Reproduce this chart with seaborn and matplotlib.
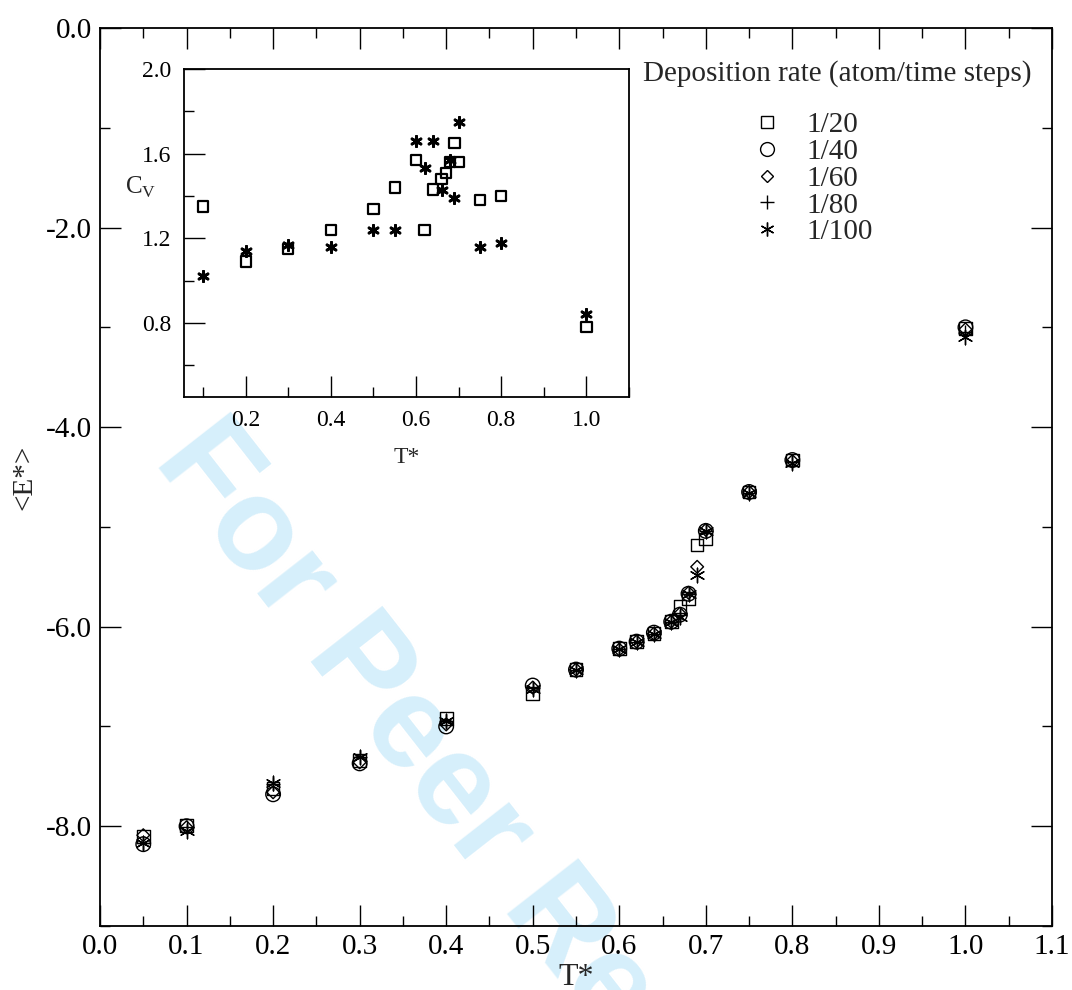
import numpy as np
import pandas as pd
import matplotlib
matplotlib.use("Agg")
import matplotlib.pyplot as plt
from matplotlib.lines import Line2D
from matplotlib.ticker import MultipleLocator, FormatStrFormatter
import seaborn as sns

# Mean energy per atom vs reduced temperature, one series per deposition rate
temps = [0.05, 0.10, 0.20, 0.30, 0.40, 0.50, 0.55, 0.60, 0.62, 0.64,
         0.66, 0.67, 0.68, 0.69, 0.70, 0.75, 0.80, 1.00]
e_rate_20 = [-8.10, -7.99, -7.62, -7.34, -6.92, -6.67, -6.43, -6.22, -6.15, -6.07,
             -5.95, -5.80, -5.72, -5.18, -5.12, -4.65, -4.33, -3.01]
e_rate_40 = [-8.18, -8.00, -7.68, -7.37, -7.00, -6.59, -6.43, -6.22, -6.15, -6.06,
             -5.95, -5.88, -5.67, np.nan, -5.04, -4.65, -4.33, -3.00]
e_rate_60 = [-8.09, -8.01, -7.66, -7.36, -6.98, -6.61, -6.43, -6.23, -6.15, -6.07,
             -5.95, -5.87, -5.66, -5.40, -5.03, -4.65, -4.34, -3.02]
e_rate_80 = [-8.17, -8.01, -7.58, -7.31, -6.95, -6.61, -6.43, -6.22, -6.15, -6.07,
             -5.95, -5.88, -5.67, np.nan, -5.04, -4.66, -4.35, -3.05]
e_rate_100 = [-8.17, -8.05, -7.57, -7.31, -6.95, -6.62, -6.43, -6.22, -6.15, -6.07,
              -5.95, -5.90, -5.67, -5.48, -5.04, -4.66, -4.36, -3.10]
rate_labels = ["1/20", "1/40", "1/60", "1/80", "1/100"]

# Specific heat (inset) for the fastest and slowest deposition rates
cv_temps = [0.10, 0.20, 0.30, 0.40, 0.50, 0.55, 0.60, 0.62, 0.64, 0.66,
            0.67, 0.68, 0.69, 0.70, 0.75, 0.80, 1.00]
cv_rate_20 = [1.35, 1.09, 1.15, 1.24, 1.34, 1.44, 1.57, 1.24, 1.43, 1.48,
              1.51, 1.56, 1.65, 1.56, 1.38, 1.40, 0.78]
cv_rate_100 = [1.02, 1.14, 1.17, 1.16, 1.24, 1.24, 1.66, 1.53, 1.66, 1.43,
               np.nan, 1.57, 1.39, 1.75, 1.16, 1.18, 0.84]

sns.set_style("ticks")
plt.rcParams["font.family"] = ["Liberation Serif", "DejaVu Serif"]
plt.rcParams["mathtext.fontset"] = "custom"
plt.rcParams["mathtext.rm"] = "Liberation Serif"

W, H = 1072, 990
fig = plt.figure(figsize=(W / 100, H / 100), dpi=100)
fig.patch.set_facecolor("white")


def px_rect(left, top, right, bottom):
    return [left / W, 1 - bottom / H, (right - left) / W, (bottom - top) / H]


ax = fig.add_axes(px_rect(100, 28, 1052, 926))
ax.set_facecolor("none")

fig.text(153 / W, 1 - 460 / H, "For Peer Review", rotation=-52,
         rotation_mode="anchor", ha="left", va="baseline", fontsize=94,
         fontweight="bold", family="Liberation Sans", color="#d6effb",
         zorder=-5)

energy = pd.DataFrame({
    "T": temps * 5,
    "E": e_rate_20 + e_rate_40 + e_rate_60 + e_rate_80 + e_rate_100,
    "rate": sum([[r] * len(temps) for r in rate_labels], []),
})

asterisk = (6, 2, 0)
styles = {
    "1/20": dict(marker="s", s=83, filled=True),
    "1/40": dict(marker="o", s=110, filled=True),
    "1/60": dict(marker="D", s=42, filled=True),
    "1/80": dict(marker="+", s=100, filled=False),
    "1/100": dict(marker=asterisk, s=110, filled=False),
}

handles = []
for rate in rate_labels:
    st = styles[rate]
    sub = energy[energy["rate"] == rate].dropna()
    ms = np.sqrt(st["s"]) * 0.95
    if st["filled"]:
        sns.scatterplot(data=sub, x="T", y="E", marker=st["marker"], s=st["s"],
                        facecolors="none", edgecolor="black", linewidth=1.0,
                        legend=False, ax=ax, zorder=3)
        handles.append(Line2D([], [], marker=st["marker"], linestyle="none",
                              markerfacecolor="none", markeredgecolor="black",
                              markeredgewidth=1.0, markersize=ms))
    else:
        sns.scatterplot(data=sub, x="T", y="E", marker=st["marker"], s=st["s"],
                        color="black", linewidth=1.0, legend=False, ax=ax, zorder=3)
        handles.append(Line2D([], [], marker=st["marker"], linestyle="none",
                              color="black", markeredgewidth=1.0, markersize=ms))

ax.set_xlim(0.0, 1.1)
ax.set_ylim(-9.0, 0.0)
ax.xaxis.set_major_locator(MultipleLocator(0.1))
ax.xaxis.set_minor_locator(MultipleLocator(0.05))
ax.yaxis.set_major_locator(MultipleLocator(2.0))
ax.yaxis.set_minor_locator(MultipleLocator(1.0))
ax.xaxis.set_major_formatter(FormatStrFormatter("%.1f"))
ax.yaxis.set_major_formatter(FormatStrFormatter("%.1f"))
ax.tick_params(which="both", direction="in", top=True, right=True, width=1.0,
               colors="black")
ax.tick_params(which="major", length=15, labelsize=21, pad=6)
ax.tick_params(which="minor", length=7.5)
for sp in ax.spines.values():
    sp.set_linewidth(1.3)
    sp.set_color("black")
    sp.set_visible(True)
ax.set_xlabel("T*", fontsize=23)
ax.set_ylabel("<E*>", fontsize=21)
ax.xaxis.set_label_coords(0.5, -0.041)
ax.xaxis.label.set_va("top")
ax.yaxis.set_label_coords(-0.066, 0.5)

fig.text(643 / W, 1 - 74 / H, "Deposition rate (atom/time steps)",
         ha="left", va="center", fontsize=21)
fig.legend(handles, rate_labels, loc="upper left",
           bbox_to_anchor=(752 / W, 1 - 112 / H), frameon=False,
           handlelength=1.0, handletextpad=0.88, labelspacing=0.01,
           borderpad=0, borderaxespad=0, fontsize=21)

# Inset: specific heat
ax_in = fig.add_axes(px_rect(184, 69, 629, 397), zorder=5)
ax_in.set_facecolor("white")
cv = pd.DataFrame({"T": cv_temps, "Cv20": cv_rate_20, "Cv100": cv_rate_100})
sns.scatterplot(data=cv, x="T", y="Cv20", marker="s", s=55, facecolors="none",
                edgecolor="black", linewidth=1.6, legend=False, ax=ax_in)
sns.scatterplot(data=cv.dropna(), x="T", y="Cv100", marker=asterisk, s=55,
                color="black", linewidth=2.0, legend=False, ax=ax_in)
ax_in.set_xlim(0.055, 1.1)
ax_in.set_ylim(0.45, 2.0)
ax_in.xaxis.set_major_locator(MultipleLocator(0.2))
ax_in.xaxis.set_minor_locator(MultipleLocator(0.1))
ax_in.yaxis.set_major_locator(MultipleLocator(0.4))
ax_in.yaxis.set_minor_locator(MultipleLocator(0.2))
ax_in.xaxis.set_major_formatter(FormatStrFormatter("%.1f"))
ax_in.yaxis.set_major_formatter(FormatStrFormatter("%.1f"))
ax_in.tick_params(which="both", direction="in", top=False, right=False,
                  width=1.0, colors="black")
ax_in.tick_params(which="major", length=15, labelsize=17, pad=9)
ax_in.tick_params(which="minor", length=7.5)
for sp in ax_in.spines.values():
    sp.set_linewidth(1.3)
    sp.set_color("black")
    sp.set_visible(True)
ax_in.set_xlabel("T*", fontsize=17, va="center")
ax_in.set_ylabel(r"C$_{\mathrm{V}}$", fontsize=18, rotation=0, ha="center", va="center")
ax_in.xaxis.set_label_coords(0.5, -0.183)
ax_in.yaxis.set_label_coords(-0.097, 0.64)

fig.savefig("out.png", dpi=100, facecolor="white")
